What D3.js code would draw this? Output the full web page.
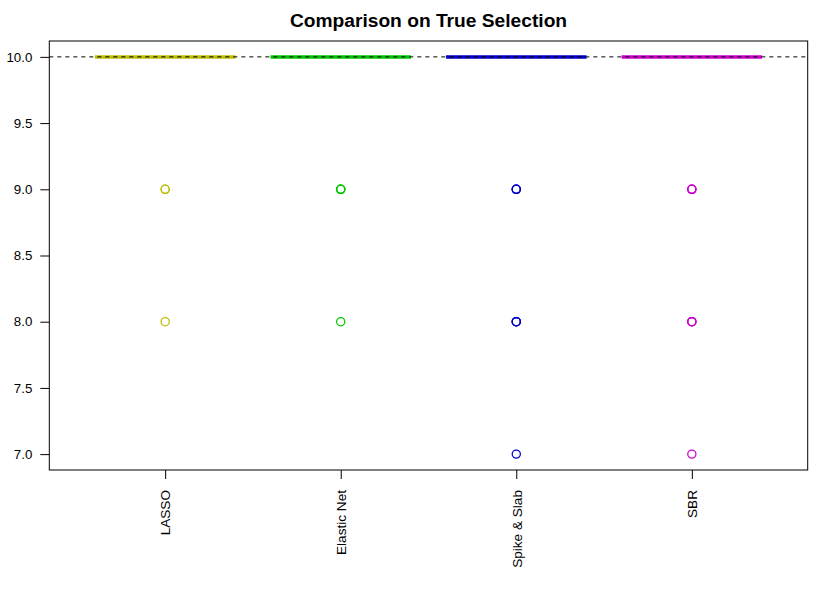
<!DOCTYPE html>
<html>
<head>
<meta charset="utf-8">
<script src="https://cdn.jsdelivr.net/npm/d3@7"></script>
<style>
  body { margin: 0; background: #fff; }
  text { font-family: "Liberation Sans", Arial, Helvetica, sans-serif; }
</style>
</head>
<body>
<div id="chart"></div>
<script>
// boxplot of number of true variables selected (out of 10)
var methods = ["LASSO", "Elastic Net", "Spike & Slab", "SBR"];
var colors = ["#BEBE00", "#00C800", "#0000CD", "#CD00CD"];
var medians = [10, 10, 10, 10];
var lowerQ = [10, 10, 10, 10];
var upperQ = [10, 10, 10, 10];
// outliers (repeated values overlap in the picture)
var outLasso = [9, 9, 8];
var outElastic = [9, 9, 9, 8];
var outSpike = [9, 9, 9, 8, 8, 8, 7];
var outSbr = [9, 9, 9, 8, 8, 8, 7];
var yTicks = [7.0, 7.5, 8.0, 8.5, 9.0, 9.5, 10.0];
var trueCount = 10;

var outliers = [outLasso, outElastic, outSpike, outSbr];

var W = 830, H = 591;
var margin = {top: 41, right: 22.3, bottom: 121, left: 49.3};
var width = W - margin.left - margin.right;
var height = H - margin.top - margin.bottom;

var svg = d3.select("#chart")
    .append("svg")
    .attr("width", W)
    .attr("height", H)
    .append("g")
    .attr("transform", "translate(" + margin.left + "," + margin.top + ")");

// R style axis limits: 4% extension
var xscale = d3.scaleLinear()
    .domain([0.34, 4.66])
    .range([0, width]);
var yscale = d3.scaleLinear()
    .domain([6.88, 10.12])
    .range([height, 0]);

// Y axis
var yaxis = d3.axisLeft(yscale)
    .tickValues(yTicks)
    .tickFormat(d3.format(".1f"))
    .tickSizeOuter(0)
    .tickSize(9)
    .tickPadding(8);
var yg = svg.append("g").call(yaxis);
yg.select(".domain").remove();
yg.selectAll("text").attr("font-size", 13.3).attr("fill", "#000")
    .style("font-family", "'Liberation Sans', Arial, sans-serif");

// X axis
var xaxis = d3.axisBottom(xscale)
    .tickValues([1, 2, 3, 4])
    .tickFormat(function (d) { return methods[d - 1]; })
    .tickSizeOuter(0)
    .tickSize(9);
var xg = svg.append("g")
    .attr("transform", "translate(0," + height + ")")
    .call(xaxis);
xg.select(".domain").remove();
xg.selectAll("text")
    .attr("transform", "rotate(-90)")
    .attr("x", -20)
    .attr("y", 0)
    .attr("dy", "0.35em")
    .attr("font-size", 13.6)
    .attr("fill", "#000")
    .style("text-anchor", "end")
    .style("font-family", "'Liberation Sans', Arial, sans-serif");

var half = 0.4;

// boxes (collapsed at 10)
methods.forEach(function (m, i) {
    var cx = i + 1;
    svg.append("rect")
        .attr("x", xscale(cx - half))
        .attr("y", yscale(upperQ[i]))
        .attr("width", xscale(cx + half) - xscale(cx - half))
        .attr("height", yscale(lowerQ[i]) - yscale(upperQ[i]))
        .attr("fill", "none")
        .attr("stroke", colors[i])
        .attr("stroke-width", 1);
    svg.append("line")
        .attr("x1", xscale(cx - half))
        .attr("x2", xscale(cx + half))
        .attr("y1", yscale(medians[i]))
        .attr("y2", yscale(medians[i]))
        .attr("stroke", colors[i])
        .attr("stroke-width", 3.5);

    svg.selectAll(".out" + i)
        .data(outliers[i])
        .enter()
        .append("circle")
        .attr("cx", xscale(cx))
        .attr("cy", function (d) { return yscale(d); })
        .attr("r", 4.1)
        .attr("fill", "none")
        .attr("stroke", colors[i])
        .attr("stroke-width", 1.25);
});

// reference line at true count
svg.append("line")
    .attr("x1", 0)
    .attr("x2", width)
    .attr("y1", yscale(trueCount))
    .attr("y2", yscale(trueCount))
    .attr("stroke", "#000")
    .attr("stroke-width", 1)
    .attr("stroke-dasharray", "4,4");

// plot box
svg.append("rect")
    .attr("x", 0)
    .attr("y", 0)
    .attr("width", width)
    .attr("height", height)
    .attr("fill", "none")
    .attr("stroke", "#000")
    .attr("stroke-width", 1);

// title
svg.append("text")
    .attr("x", width / 2)
    .attr("y", 27 - margin.top)
    .attr("text-anchor", "middle")
    .attr("font-size", 19.2)
    .attr("font-weight", "bold")
    .attr("fill", "#000")
    .text("Comparison on True Selection");
</script>
</body>
</html>
